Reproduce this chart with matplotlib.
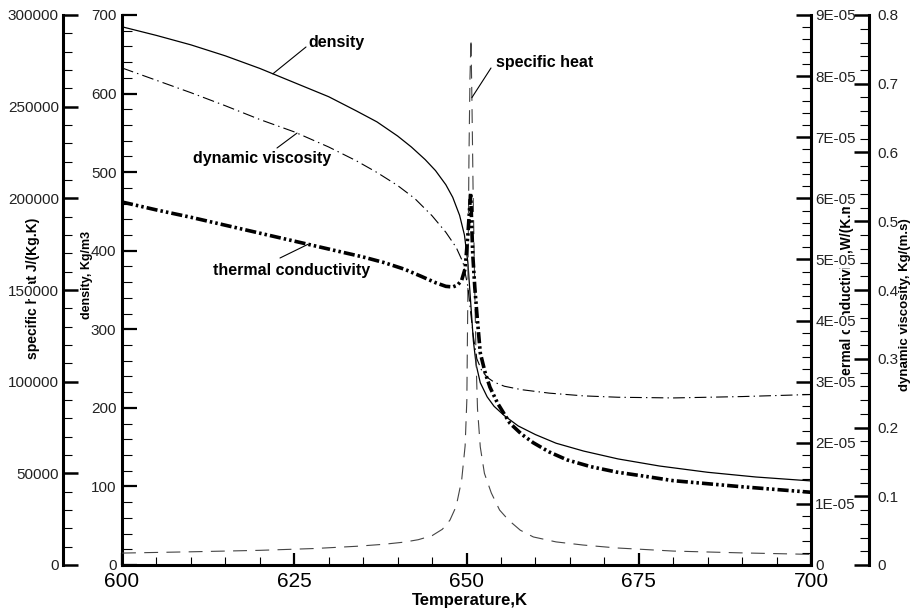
import numpy as np
import matplotlib
matplotlib.use('Agg')
import matplotlib.pyplot as plt
from matplotlib.ticker import MultipleLocator, FuncFormatter

plt.rcParams['font.family'] = ['Liberation Sans', 'DejaVu Sans']
plt.rcParams['lines.scale_dashes'] = False

# density, Kg/m3
T_rho = [600, 605, 610, 615, 620, 625, 630, 634, 637, 640, 642, 644, 645.5, 647, 648,
         649, 649.7, 650.2, 650.6, 651, 651.4, 652, 653, 654, 655.5, 657.5, 660, 663,
         667, 672, 678, 685, 692, 700]
rho = [685, 674, 662, 648, 632, 614, 596, 578, 564, 546, 532, 516, 502, 484, 468,
       445, 420, 385, 335, 285, 255, 232, 214, 202, 190, 177, 166, 155,
       145, 135, 126, 118, 112, 107]

# dynamic viscosity, Kg/(m.s)
T_mu = [600, 605, 610, 615, 620, 625, 630, 634, 637, 640, 642.5, 645, 647, 648.5,
        649.5, 650.2, 650.6, 651, 651.5, 652.2, 653, 654, 655.5, 658, 662, 667, 672,
        680, 690, 700]
mu = [0.723, 0.705, 0.687, 0.668, 0.648, 0.630, 0.608, 0.588, 0.571, 0.552, 0.533,
      0.508, 0.484, 0.462, 0.440, 0.405, 0.368, 0.332, 0.300, 0.283, 0.273, 0.266,
      0.260, 0.255, 0.250, 0.246, 0.244, 0.243, 0.245, 0.248]

# thermal conductivity, W/(K.m)
T_k = [600, 605, 610, 615, 620, 625, 630, 635, 638, 641, 643.5, 645.5, 647, 648,
       648.7, 649.3, 649.8, 650.2, 650.6, 650.9, 651.2, 651.5, 652, 652.7, 653.4,
       654.5, 656.3, 658, 659.7, 662, 664.6, 668, 671.8, 676, 680, 690, 700]
k = [5.94e-5, 5.81e-5, 5.69e-5, 5.56e-5, 5.43e-5, 5.30e-5, 5.17e-5, 5.04e-5, 4.95e-5,
     4.84e-5, 4.72e-5, 4.62e-5, 4.56e-5, 4.55e-5, 4.58e-5, 4.66e-5, 4.85e-5, 5.40e-5,
     6.09e-5, 5.10e-5, 4.55e-5, 4.12e-5, 3.47e-5, 3.15e-5, 2.91e-5, 2.65e-5, 2.32e-5,
     2.14e-5, 2.00e-5, 1.85e-5, 1.72e-5, 1.61e-5, 1.52e-5, 1.45e-5, 1.38e-5, 1.28e-5,
     1.19e-5]

# specific heat J/(Kg.K)
T_cp = [600, 610, 620, 628, 634, 638, 641, 643, 645, 646.5, 647.6, 648.5, 649.3, 649.8,
        650.05, 650.2, 650.35, 650.5, 650.65, 650.8, 650.95, 651.2, 651.4, 651.6, 652.0,
        652.6, 653.6, 654.8, 656.1, 657.8, 659.7, 663, 666.9, 671.8, 680, 690, 700]
cp = [6500, 7200, 8000, 9000, 10200, 11300, 12500, 13800, 16000, 19500, 24500, 32000,
      46400, 65000, 90000, 150000, 220000, 265000, 287000, 250000, 206000, 150000,
      110000, 85000, 64400, 50000, 39300, 30000, 24500, 19000, 15300, 12600, 10900,
      9300, 7600, 6600, 5800]

W, H = 910, 611
fig = plt.figure(figsize=(W / 100, H / 100), dpi=100)
L, R, TOP, BOT = 122, 811, 15, 565
ax = fig.add_axes([L / W, 1 - BOT / H, (R - L) / W, (BOT - TOP) / H])
span = R - L

ax_cp = ax.twinx()
ax_k = ax.twinx()
ax_mu = ax.twinx()

spw = 2.2
for a in (ax, ax_cp, ax_k, ax_mu):
    for s in a.spines.values():
        s.set_visible(False)
        s.set_linewidth(spw)

ax.spines['left'].set_visible(True)
ax.spines['bottom'].set_visible(True)

ax_cp.spines['left'].set_visible(True)
ax_cp.spines['left'].set_position(('axes', -(L - 63) / span))
ax_cp.yaxis.set_ticks_position('left')
ax_cp.yaxis.set_label_position('left')

ax_k.spines['right'].set_visible(True)

ax_mu.spines['right'].set_visible(True)
ax_mu.spines['right'].set_position(('axes', (869 - L) / span))

# curves
ax_cp.plot(T_cp, cp, color='#444444', lw=0.8, dashes=(10, 6))
ax.plot(T_rho, rho, color='black', lw=0.9)
ax_mu.plot(T_mu, mu, color='black', lw=0.8, dashes=(8.5, 3, 1, 3))
ax_k.plot(T_k, k, color='black', lw=2.6, dashes=(8, 2.2, 1.8, 2.2, 1.8, 2.2),
          dash_capstyle='butt')

# limits and ticks
ax.set_xlim(600, 700)
ax.set_ylim(0, 700)
ax_cp.set_ylim(0, 300000)
ax_k.set_ylim(0, 9e-5)
ax_mu.set_ylim(0, 0.8)

ax.xaxis.set_major_locator(MultipleLocator(25))
ax.xaxis.set_minor_locator(MultipleLocator(5))
ax.yaxis.set_major_locator(MultipleLocator(100))
ax.yaxis.set_minor_locator(MultipleLocator(20))
ax_cp.yaxis.set_major_locator(MultipleLocator(50000))
ax_cp.yaxis.set_minor_locator(MultipleLocator(10000))
ax_k.yaxis.set_major_locator(MultipleLocator(1e-5))
ax_k.yaxis.set_minor_locator(MultipleLocator(2e-6))
ax_mu.yaxis.set_major_locator(MultipleLocator(0.1))
ax_mu.yaxis.set_minor_locator(MultipleLocator(0.02))

ax_k.yaxis.set_major_formatter(FuncFormatter(lambda v, p: '0' if abs(v) < 1e-12 else f'{v:.0E}'))
ax_mu.yaxis.set_major_formatter(FuncFormatter(lambda v, p: '0' if abs(v) < 1e-9 else f'{v:.1f}'))
ax.yaxis.set_major_formatter(FuncFormatter(lambda v, p: f'{v:.0f}'))
ax_cp.yaxis.set_major_formatter(FuncFormatter(lambda v, p: f'{v:.0f}'))

ax.tick_params(axis='x', which='major', direction='in', length=9, width=1.6,
               labelsize=15, pad=5, top=False)
ax.tick_params(axis='x', which='minor', direction='in', length=6, width=0.8, top=False)
ax.tick_params(axis='y', which='major', direction='in', length=11, width=1.6,
               labelsize=11, pad=4, right=False)
ax.tick_params(axis='y', which='minor', direction='in', length=7, width=0.8, right=False)
ax_cp.tick_params(axis='y', which='major', direction='in', length=11, width=1.8,
                  labelsize=11, pad=3, left=True, right=False, labelleft=True, labelright=False)
ax_cp.tick_params(axis='y', which='minor', direction='in', length=6.5, width=0.8,
                  left=True, right=False)
for a, pd in ((ax_k, 3), (ax_mu, 6)):
    a.tick_params(axis='y', which='major', direction='in', length=11, width=1.8,
                  labelsize=11, pad=pd, left=False, right=True)
    a.tick_params(axis='y', which='minor', direction='in', length=6.5, width=0.8,
                  left=False, right=True)

for a in (ax, ax_cp, ax_k, ax_mu):
    for lbl in a.get_yticklabels():
        lbl.set_color('#222222')
# the cp and conductivity tick labels sit on top of their axis titles
for a in (ax_cp, ax_k):
    for lbl in a.get_yticklabels():
        lbl.set_bbox(dict(facecolor='white', edgecolor='none', pad=0.3))

# axis titles
fig.text(470 / W, 1 - 601 / H, 'Temperature,K', ha='center', va='center',
         fontsize=12, fontweight='bold', family=['Liberation Sans Narrow', 'Liberation Sans'])
fig.text(33 / W, 1 - 288 / H, 'specific heat J/(Kg.K)', rotation=90, ha='center',
         va='center', fontsize=10, fontweight='bold', zorder=-1)
fig.text(87 / W, 1 - 275 / H, 'density, Kg/m3', rotation=90, ha='center',
         va='center', fontsize=9, fontweight='bold', zorder=-1)
fig.text(847 / W, 1 - 292 / H, 'thermal conductivity,W/(K.m)', rotation=90, ha='center',
         va='center', fontsize=10, fontweight='bold', zorder=-1)
fig.text(905 / W, 1 - 305 / H, 'dynamic viscosity, Kg/(m.s)', rotation=90, ha='center',
         va='center', fontsize=9.5, fontweight='bold', zorder=-1)


def fx(px, py):
    return (px / W, 1 - py / H)


# curve labels with leader lines
labels = [
    ('density', (336, 42), ax, 621.9, np.interp(621.9, T_rho, rho), (306, 47)),
    ('dynamic viscosity', (262, 158), ax_mu, 625.4, np.interp(625.4, T_mu, mu), (277, 148)),
    ('thermal conductivity', (292, 270), ax_k, 627.0, np.interp(627.0, T_k, k), (280, 258)),
    ('specific heat', (545, 62), ax_cp, 650.78, np.interp(650.78, T_cp, cp), (491, 68)),
]
for txt, tpos, a, xd, yd, lend in labels:
    fig.text(*fx(*tpos), txt, ha='center', va='center', fontsize=11.5, fontweight='bold')
    a.annotate('', xy=(xd, yd), xycoords='data', xytext=fx(*lend),
               textcoords='figure fraction',
               arrowprops=dict(arrowstyle='-', lw=0.8, color='black',
                               shrinkA=0, shrinkB=0))

fig.savefig('out.png', dpi=100)
